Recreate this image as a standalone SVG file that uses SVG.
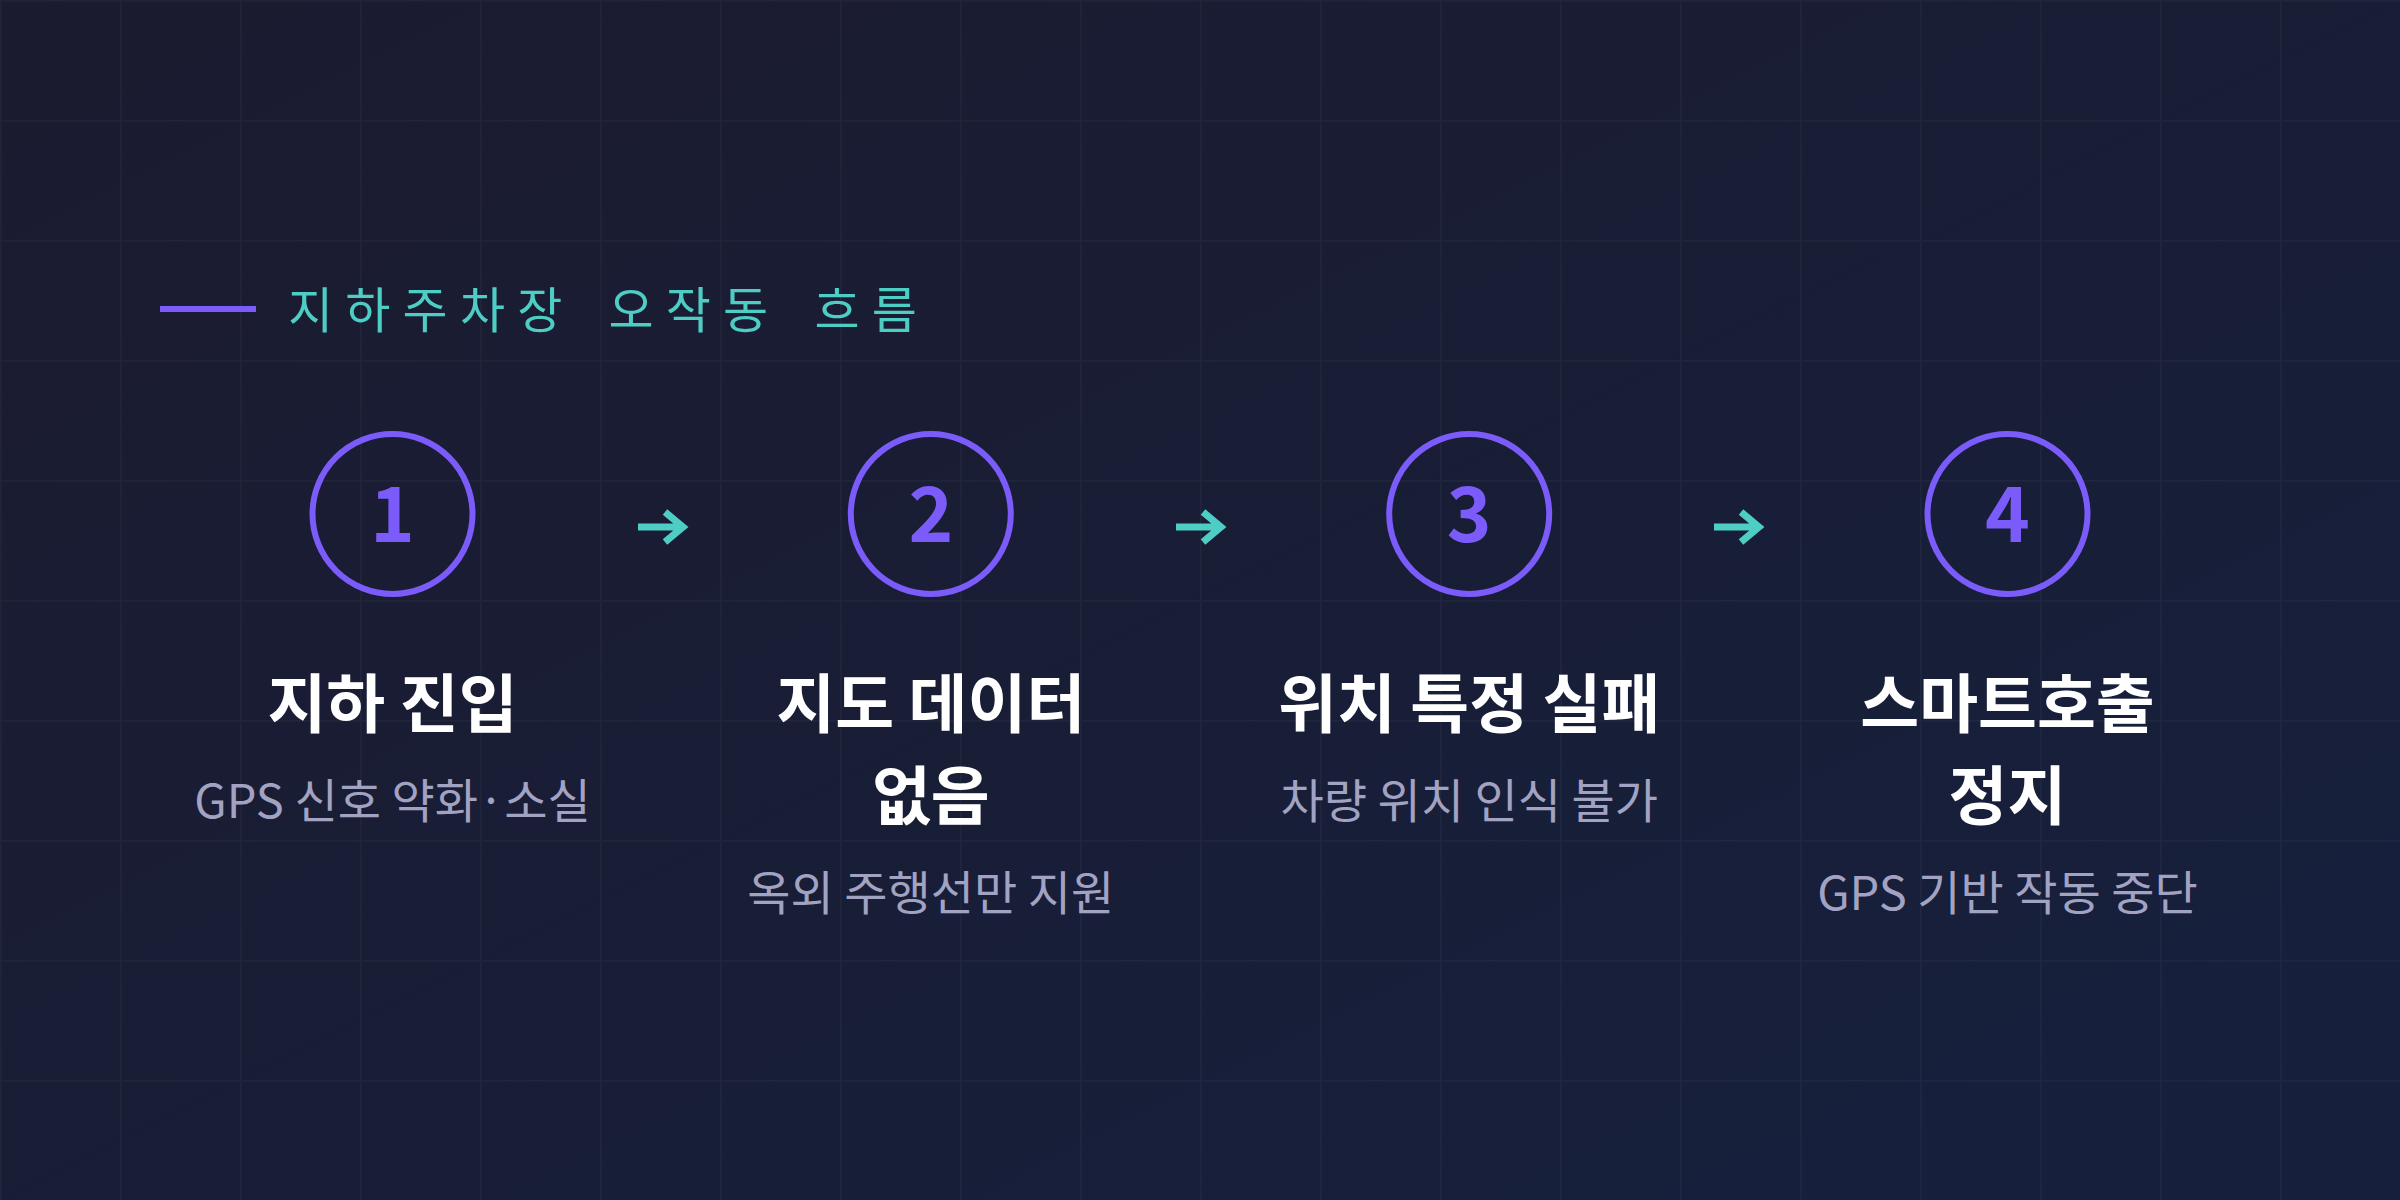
<svg xmlns="http://www.w3.org/2000/svg" width="2400" height="1200" viewBox="0 0 2400 1200">
  <defs>
    <linearGradient id="bg" x1="0" y1="0" x2="1" y2="1">
      <stop offset="0" stop-color="#1b1b2f"/>
      <stop offset="1" stop-color="#16203d"/>
    </linearGradient>
    <pattern id="grid" x="0" y="0" width="120" height="120" patternUnits="userSpaceOnUse">
      <path d="M0 0H120M0 0V120" fill="none" stroke="#ffffff" stroke-opacity="0.035" stroke-width="3"/>
    </pattern>
    <style>
      .ring { fill: none; stroke: #7b5cfa; stroke-width: 6; }
      .num { font-family: "Noto Sans CJK KR", sans-serif; font-weight: 700; font-size: 76px; fill: #7b5cfa; text-anchor: middle; }
      .title { font-family: "Noto Sans CJK KR", sans-serif; font-weight: 700; font-size: 64px; fill: #ffffff; text-anchor: middle; }
      .sub { font-family: "Noto Sans CJK KR", sans-serif; font-weight: 400; font-size: 47px; fill: #a2a2c2; text-anchor: middle; }
      .head { font-family: "Noto Sans CJK KR", sans-serif; font-weight: 400; font-size: 49px; fill: #4ecdc4; }
      .arrow { fill: none; stroke: #4ecdc4; stroke-width: 7; }
    </style>
  </defs>
  <rect width="2400" height="1200" fill="url(#bg)"/>
  <rect width="2400" height="1200" fill="url(#grid)"/>

  <g id="heading">
    <line x1="160" y1="309" x2="256" y2="309" stroke="#7b5cfa" stroke-width="6"/>
    <text class="head" x="288 345.3 402.6 459.9 517.2 574.5 608.5 665.8 723.1 780.4 814.4 871.7" y="328">지하주차장 오작동 흐름</text>
  </g>

  <g id="connectors">
    <path class="arrow" d="M638 527H683M665 512L683 527L665 542"/>
    <path class="arrow" d="M1176 527H1221M1203 512L1221 527L1203 542"/>
    <path class="arrow" d="M1714 527H1759M1741 512L1759 527L1741 542"/>
  </g>

  <g id="node1">
    <circle class="ring" cx="392.5" cy="514" r="80"/>
    <text class="num" x="392.5" y="542">1</text>
    <text class="title" x="392.5" y="727">지하 진입</text>
    <text class="sub" x="392.5" y="818">GPS 신호 약화·소실</text>
  </g>

  <g id="node2">
    <circle class="ring" cx="930.8" cy="514" r="80"/>
    <text class="num" x="930.8" y="542">2</text>
    <text class="title" x="930.8" y="727">지도 데이터</text>
    <text class="title" x="930.8" y="819">없음</text>
    <text class="sub" x="930.8" y="910">옥외 주행선만 지원</text>
  </g>

  <g id="node3">
    <circle class="ring" cx="1469.2" cy="514" r="80"/>
    <text class="num" x="1469.2" y="542">3</text>
    <text class="title" x="1469.2" y="727">위치 특정 실패</text>
    <text class="sub" x="1469.2" y="818">차량 위치 인식 불가</text>
  </g>

  <g id="node4">
    <circle class="ring" cx="2007.5" cy="514" r="80"/>
    <text class="num" x="2007.5" y="542">4</text>
    <text class="title" x="2007.5" y="727">스마트호출</text>
    <text class="title" x="2007.5" y="819">정지</text>
    <text class="sub" x="2007.5" y="910">GPS 기반 작동 중단</text>
  </g>
</svg>
